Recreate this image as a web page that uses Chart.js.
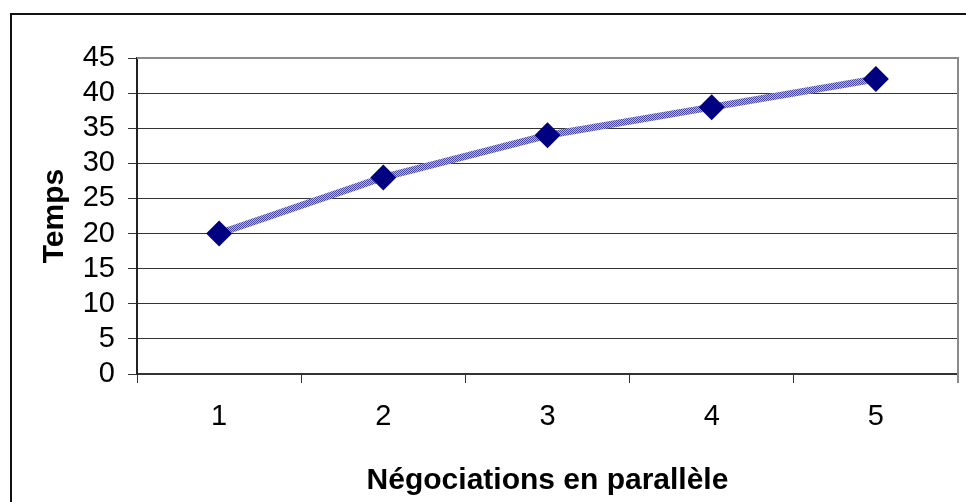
<!DOCTYPE html>
<html lang="fr">
<head>
<meta charset="utf-8">
<title>Temps / Négociations en parallèle</title>
<script src="https://cdn.jsdelivr.net/npm/chart.js@4.4.1/dist/chart.umd.min.js"></script>
<style>
  html, body { margin: 0; padding: 0; background: #ffffff; }
  #cadre { width: 966px; height: 502px; }
</style>
</head>
<body>
<div id="cadre"><canvas id="graphiqueTemps" width="966" height="502"></canvas></div>
<script>
// Données du graphique
const negociations = ['1', '2', '3', '4', '5'];
const temps = [20, 28, 34, 38, 42];
const graduationsY = [0, 5, 10, 15, 20, 25, 30, 35, 40, 45];

const police = "'Liberation Sans', Arial, sans-serif";

// Motif tramé pour le trait de la courbe (bleu foncé / bleu clair)
function creerTrame() {
    const c = document.createElement('canvas');
    c.width = 2; c.height = 2;
    const g = c.getContext('2d');
    g.fillStyle = '#b4b4e2';
    g.fillRect(0, 0, 2, 2);
    g.fillStyle = '#4848a4';
    g.fillRect(0, 0, 1, 1);
    g.fillRect(1, 1, 1, 1);
    return g.createPattern(c, 'repeat');
}

// Cadre extérieur et bordure grise de la zone de traçage
const cadres = {
    id: 'cadres',
    afterDraw(chart) {
        const ctx = chart.ctx;
        const a = chart.chartArea;
        ctx.save();
        ctx.strokeStyle = '#111111';
        ctx.lineWidth = 2;
        ctx.beginPath();
        ctx.moveTo(11, 502);
        ctx.lineTo(11, 14);
        ctx.lineTo(966, 14);
        ctx.stroke();

        ctx.strokeStyle = '#8a8a8a';
        ctx.lineWidth = 2;
        ctx.beginPath();
        ctx.moveTo(a.left, a.top);
        ctx.lineTo(a.right, a.top);
        ctx.lineTo(a.right, a.bottom + 9);
        ctx.stroke();
        ctx.restore();
    }
};

const graphique = new Chart(document.getElementById('graphiqueTemps').getContext('2d'), {
    type: 'line',
    data: {
        labels: negociations,
        datasets: [{
            data: temps,
            borderColor: creerTrame(),
            borderWidth: 7,
            tension: 0,
            pointStyle: 'rectRot',
            pointRadius: 13,
            pointHoverRadius: 13,
            pointBackgroundColor: '#000080',
            pointBorderColor: '#000080',
            pointBorderWidth: 0
        }]
    },
    options: {
        responsive: false,
        animation: false,
        events: [],
        layout: { autoPadding: false, padding: { left: 0, top: 58, right: 8, bottom: 0 } },
        plugins: {
            legend: { display: false },
            tooltip: { enabled: false }
        },
        scales: {
            x: {
                offset: true,
                afterFit: s => {
                    s.height = 128;
                    s.paddingLeft = 0;
                    s.paddingRight = 0;
                },
                grid: {
                    offset: true,
                    drawOnChartArea: false,
                    drawTicks: true,
                    tickLength: 9,
                    color: '#333333',
                    lineWidth: 1
                },
                border: { display: true, color: '#333333', width: 2 },
                ticks: {
                    color: '#000000',
                    padding: 17,
                    autoSkip: false,
                    font: { family: police, size: 29 }
                },
                title: {
                    display: true,
                    text: 'Négociations en parallèle',
                    color: '#000000',
                    font: { family: police, size: 30, weight: 'bold' },
                    padding: { top: 0, bottom: 3 }
                }
            },
            y: {
                min: 0,
                max: 45,
                afterFit: s => { s.width = 137; },
                afterBuildTicks: s => { s.ticks = graduationsY.map(v => ({ value: v })); },
                grid: {
                    drawTicks: true,
                    tickLength: 9,
                    color: '#333333',
                    lineWidth: 1
                },
                border: { display: true, color: '#222222', width: 2 },
                ticks: {
                    color: '#000000',
                    padding: 13,
                    autoSkip: false,
                    font: { family: police, size: 29 }
                },
                title: {
                    display: true,
                    text: 'Temps',
                    color: '#000000',
                    font: { family: police, size: 30, weight: 'bold' },
                    padding: { top: 37, bottom: 0 }
                }
            }
        }
    },
    plugins: [cadres]
});
</script>
</body>
</html>
